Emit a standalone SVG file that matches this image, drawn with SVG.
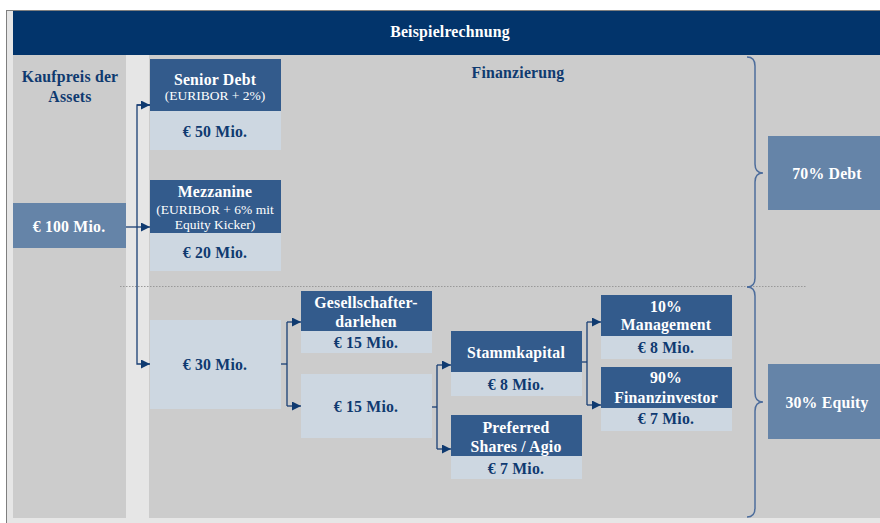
<svg xmlns="http://www.w3.org/2000/svg" width="880" height="523" viewBox="0 0 880 523">
<defs>
<style>
text{font-family:"Liberation Serif","Times New Roman",serif;text-anchor:middle}
.b{font-weight:bold;font-size:15.8px;letter-spacing:0.2px}
.w{fill:#ffffff}
.d{fill:#0f3a70}
.n{font-size:13.5px;font-weight:normal;letter-spacing:0}
.hd{fill:#335b8c}
.vl{fill:#cdd7e1}
.mid{fill:#6584a8}
.pn{fill:#cccccc}
.con{fill:none;stroke:#1a3f74;stroke-width:1.3}
.brace{fill:none;stroke:#4d6d9c;stroke-width:1.5}
</style>
<marker id="ah" viewBox="0 0 10 10" refX="10" refY="5" markerWidth="9" markerHeight="9" markerUnits="userSpaceOnUse" orient="auto">
<path d="M0,0 L10,5 L0,10 Z" fill="#0f3a70"/>
</marker>
</defs>

<g id="frame">
<rect x="6.5" y="10.5" width="880" height="520" fill="#e6e6e6" stroke="#7f7f7f" stroke-width="1"/>
<rect x="13" y="11" width="867" height="44" fill="#02346b"/>
<rect x="13" y="55" width="113" height="463" class="pn"/>
<rect x="149" y="55" width="731" height="463" class="pn"/>
<line x1="120" y1="286.5" x2="806" y2="286.5" stroke="#999999" stroke-width="1" stroke-dasharray="1.5,1.5"/>
<text x="450" y="37" class="b w">Beispielrechnung</text>
<text x="518" y="78" class="b d">Finanzierung</text>
<text x="70" y="82" class="b d">Kaufpreis der</text>
<text x="70" y="102" class="b d">Assets</text>
</g>

<g id="kaufpreis">
<rect x="13" y="203" width="113" height="45" class="mid"/>
<text x="69" y="232" class="b w">€ 100 Mio.</text>
</g>

<g id="senior-debt">
<rect x="150" y="59" width="131" height="52" class="hd"/>
<rect x="150" y="111" width="131" height="39" class="vl"/>
<text x="215" y="85" class="b w">Senior Debt</text>
<text x="215" y="100" class="n w">(EURIBOR + 2%)</text>
<text x="215" y="137" class="b d">€ 50 Mio.</text>
</g>

<g id="mezzanine">
<rect x="150" y="180" width="131" height="53" class="hd"/>
<rect x="150" y="233" width="131" height="38" class="vl"/>
<text x="215" y="197" class="b w">Mezzanine</text>
<text x="215" y="214" class="n w">(EURIBOR + 6% mit</text>
<text x="215" y="229" class="n w">Equity Kicker)</text>
<text x="215" y="258" class="b d">€ 20 Mio.</text>
</g>

<g id="equity30">
<rect x="150" y="320" width="131" height="89" class="vl"/>
<text x="215" y="370" class="b d">€ 30 Mio.</text>
</g>

<g id="gesellschafterdarlehen">
<rect x="301" y="291" width="131" height="40" class="hd"/>
<rect x="301" y="331" width="131" height="22" class="vl"/>
<text x="366" y="308" class="b w">Gesellschafter-</text>
<text x="366" y="327" class="b w">darlehen</text>
<text x="366" y="348" class="b d">€ 15 Mio.</text>
</g>

<g id="equity15">
<rect x="301" y="374" width="131" height="64" class="vl"/>
<text x="366" y="412" class="b d">€ 15 Mio.</text>
</g>

<g id="stammkapital">
<rect x="451" y="331" width="131" height="41" class="hd"/>
<rect x="451" y="372" width="131" height="24" class="vl"/>
<text x="516" y="358" class="b w">Stammkapital</text>
<text x="516" y="390" class="b d">€ 8 Mio.</text>
</g>

<g id="preferred">
<rect x="451" y="415" width="131" height="41" class="hd"/>
<rect x="451" y="456" width="131" height="23" class="vl"/>
<text x="516" y="433" class="b w">Preferred</text>
<text x="516" y="452" class="b w">Shares / Agio</text>
<text x="516" y="474" class="b d">€ 7 Mio.</text>
</g>

<g id="management">
<rect x="601" y="295" width="131" height="41" class="hd"/>
<rect x="601" y="336" width="131" height="23" class="vl"/>
<text x="666" y="312" class="b w">10%</text>
<text x="666" y="330" class="b w">Management</text>
<text x="666" y="353" class="b d">€ 8 Mio.</text>
</g>

<g id="finanzinvestor">
<rect x="601" y="367" width="131" height="41" class="hd"/>
<rect x="601" y="408" width="131" height="23" class="vl"/>
<text x="666" y="383" class="b w">90%</text>
<text x="666" y="403" class="b w">Finanzinvestor</text>
<text x="666" y="424" class="b d">€ 7 Mio.</text>
</g>

<g id="debt70">
<rect x="768" y="136" width="112" height="74" class="mid"/>
<text x="827" y="179" class="b w">70% Debt</text>
</g>

<g id="equity-30pct">
<rect x="768" y="364" width="112" height="75" class="mid"/>
<text x="827" y="408" class="b w">30% Equity</text>
</g>

<g id="connectors">
<path class="con" d="M126,227 H150" marker-end="url(#ah)"/>
<path class="con" d="M150,105 H137 V364 H150" marker-end="url(#ah)"/>
<path class="con" d="M137,105 H150" marker-end="url(#ah)"/>
<path class="con" d="M281,364 H287"/>
<path class="con" d="M287,322 V406"/>
<path class="con" d="M287,322 H301" marker-end="url(#ah)"/>
<path class="con" d="M287,406 H301" marker-end="url(#ah)"/>
<path class="con" d="M432,407 H437"/>
<path class="con" d="M437,365 V449"/>
<path class="con" d="M437,365 H451" marker-end="url(#ah)"/>
<path class="con" d="M437,449 H451" marker-end="url(#ah)"/>
<path class="con" d="M582,362 H587"/>
<path class="con" d="M587,322 V405"/>
<path class="con" d="M587,322 H601" marker-end="url(#ah)"/>
<path class="con" d="M587,405 H601" marker-end="url(#ah)"/>
<path class="brace" d="M747,57 Q755,57 755,66 V164 Q755,173 763,173 Q755,173 755,182 V278 Q755,287 747,287"/>
<path class="brace" d="M747,287 Q755,287 755,296 V393 Q755,402 763,402 Q755,402 755,411 V508 Q755,517 747,517"/>
</g>
</svg>
